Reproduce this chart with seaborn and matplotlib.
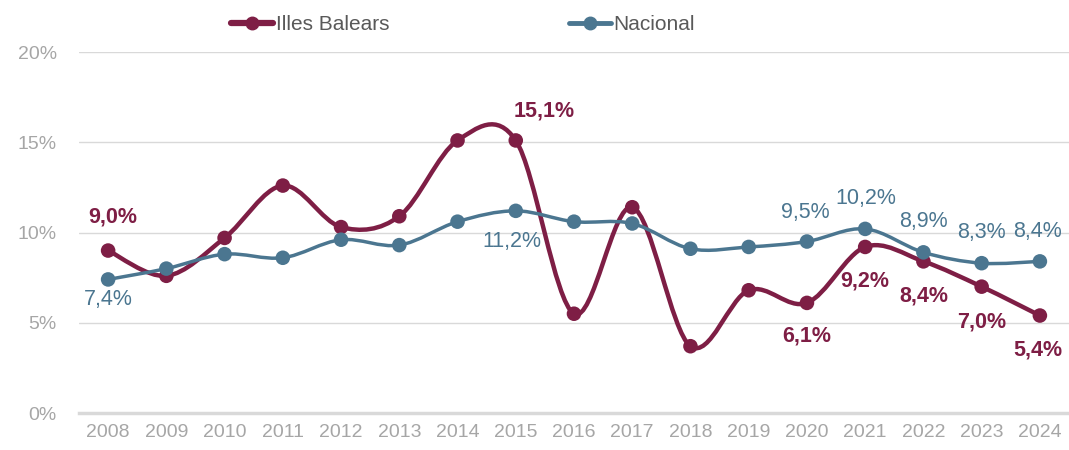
import numpy as np
import pandas as pd
import matplotlib
matplotlib.use("Agg")
import matplotlib.pyplot as plt
import seaborn as sns
from matplotlib.path import Path
from matplotlib.patches import PathPatch
from matplotlib.lines import Line2D

# ---- data ----
years = [str(y) for y in range(2008, 2025)]
balears = [9.0, 7.6, 9.7, 12.6, 10.3, 10.9, 15.1, 15.1, 5.5, 11.4, 3.7, 6.8, 6.1, 9.2, 8.4, 7.0, 5.4]
nacional = [7.4, 8.0, 8.8, 8.6, 9.6, 9.3, 10.6, 11.2, 10.6, 10.5, 9.1, 9.2, 9.5, 10.2, 8.9, 8.3, 8.4]
series_names = ["Illes Balears", "Nacional"]
y_ticks = [0, 5, 10, 15, 20]
y_ticklabels = ["0%", "5%", "10%", "15%", "20%"]

# labelled points: index -> (dx px, dy px)
balears_labels = {0: (5, 34), 7: (28, 29), 12: (0, -33), 13: (0, -34), 14: (0, -35), 15: (0, -35), 16: (-2, -34)}
nacional_labels = {0: (0, -20), 7: (-4, -31), 12: (-2, 29), 13: (1, 30), 14: (0, 31), 15: (0, 31), 16: (-2, 30)}

c_bal = "#7E1E45"
c_nac = "#4B7690"
c_tick = "#A6A6A6"
c_grid = "#D9D9D9"

sns.set_theme(style="white")
plt.rcParams["font.family"] = ["Liberation Sans", "DejaVu Sans"]

fig = plt.figure(figsize=(10.69, 4.5), dpi=100)
ax = fig.add_axes([79 / 1069, 37 / 450, 990 / 1069, 361 / 450])

x = np.arange(len(years))
df = pd.DataFrame({"x": x, "Illes Balears": balears, "Nacional": nacional})


def smooth_path(xs, ys):
    pts = np.column_stack([xs, ys]).astype(float)
    n = len(pts)
    verts = [pts[0]]
    codes = [Path.MOVETO]
    for i in range(n - 1):
        p0 = pts[i - 1] if i > 0 else pts[i]
        p1 = pts[i]
        p2 = pts[i + 1]
        p3 = pts[i + 2] if i + 2 < n else pts[i + 1]
        c1 = p1 + (p2 - p0) / 6.0
        c2 = p2 - (p3 - p1) / 6.0
        verts += [c1, c2, p2]
        codes += [Path.CURVE4] * 3
    return Path(verts, codes)


for name, col, lw, z in [("Illes Balears", c_bal, 3.2, 2), ("Nacional", c_nac, 2.5, 4)]:
    patch = PathPatch(smooth_path(df["x"], df[name]), facecolor="none", edgecolor=col,
                      lw=lw, zorder=z, capstyle="round", joinstyle="round")
    ax.add_patch(patch)
    sns.scatterplot(data=df, x="x", y=name, color=col, s=110, edgecolor="none",
                    ax=ax, zorder=z + 1, legend=False)

for vals, labs, col, weight in [(balears, balears_labels, c_bal, "bold"),
                                (nacional, nacional_labels, c_nac, "normal")]:
    for i, (dx, dy) in labs.items():
        ax.annotate(f"{vals[i]:.1f}%".replace(".", ","), (x[i], vals[i]),
                    xytext=(dx, dy), textcoords="offset pixels",
                    ha="center", va="center", color=col, fontsize=15.5,
                    fontweight=weight, zorder=6)

ax.set_xlim(-0.5, len(years) - 0.5)
ax.set_ylim(0, 20)
ax.set_xticks(x)
ax.set_xticklabels(years)
ax.set_yticks(y_ticks)
ax.set_yticklabels(y_ticklabels)
ax.set_xlabel("")
ax.set_ylabel("")
ax.tick_params(axis="x", length=0, pad=8, labelsize=14, labelcolor=c_tick)
ax.tick_params(axis="y", length=0, pad=16, labelsize=14, labelcolor=c_tick)
ax.grid(axis="y", color=c_grid, lw=1)
ax.grid(axis="x", visible=False)
for s in ["top", "right", "left"]:
    ax.spines[s].set_visible(False)
ax.spines["bottom"].set_color(c_grid)
ax.spines["bottom"].set_linewidth(2.5)
ax.set_axisbelow(True)

for name, col, lw, xpos in [("Illes Balears", c_bal, 4.5, 221), ("Nacional", c_nac, 3.5, 559)]:
    h = Line2D([0], [0], color=col, lw=lw, marker="o", markersize=9)
    leg = fig.legend([h], [name], loc="center left", bbox_to_anchor=(xpos / 1069, 1 - 25 / 450),
                     frameon=False, borderpad=0, handlelength=2.0, handletextpad=0.12,
                     prop={"family": ["Liberation Sans", "DejaVu Sans"], "size": 15})
    for t in leg.get_texts():
        t.set_color("#595959")

fig.savefig("out.png", dpi=100)
